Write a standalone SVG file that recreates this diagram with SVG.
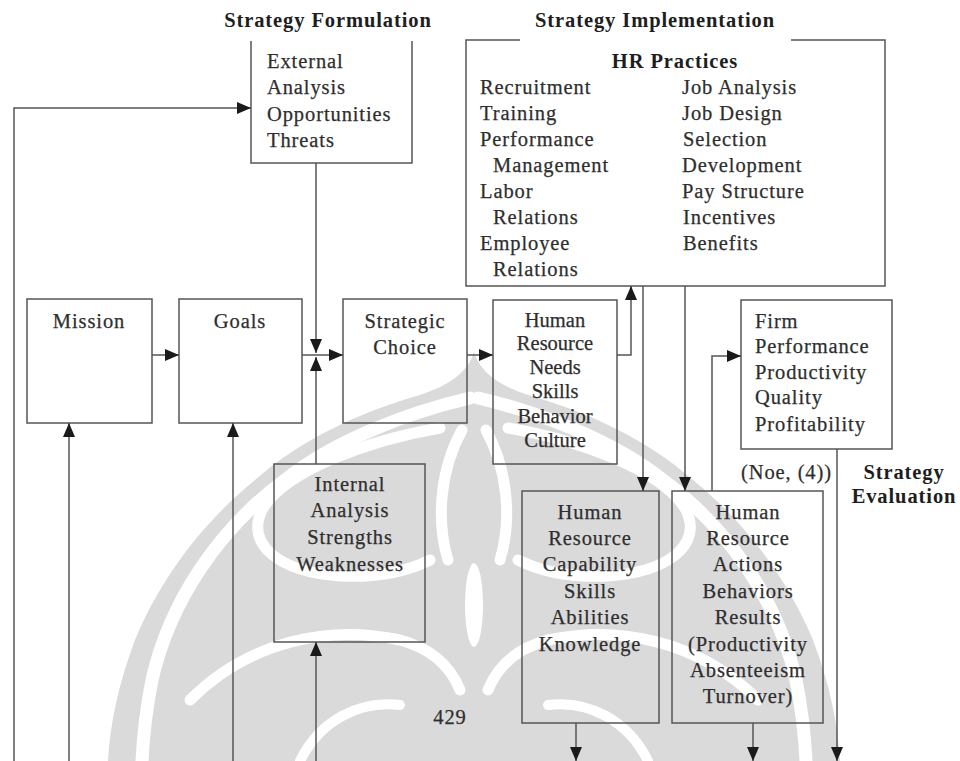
<svg xmlns="http://www.w3.org/2000/svg" width="960" height="761" viewBox="0 0 960 761">
<style>
.t{font-family:"Liberation Serif","Times New Roman",serif;font-size:20.5px;letter-spacing:0.9px;fill:#2e2e2e;stroke:#2e2e2e;stroke-width:0.25}
.c{text-anchor:middle}
.n{letter-spacing:0px}
.b{font-weight:bold;fill:#1e1e1e;stroke:none}
.box{fill:none;stroke:#555555;stroke-width:1.5}
.ln{fill:none;stroke:#555555;stroke-width:1.5}
.ar{marker-end:url(#ah)}
.wm{fill:#dadada}
.wb{fill:none;stroke:#ffffff;stroke-linecap:round}
</style>
<defs>
<marker id="ah" markerUnits="userSpaceOnUse" markerWidth="14" markerHeight="12" refX="14" refY="6" orient="auto">
<path d="M0,0 L14,6 L0,12 z" fill="#1a1a1a"/>
</marker>
</defs>
<rect x="0" y="0" width="960" height="761" fill="#ffffff"/>
<g id="watermark">
<path class="wm" d="M474,352 C468,372 450,385 420,395 C360,412 300,440 255,480 C200,525 160,580 135,640 C118,685 110,725 108,761 L840,761 C838,725 830,685 813,640 C788,580 748,525 693,480 C648,440 588,412 528,395 C498,385 480,372 474,352 Z"/>
<path class="wb" stroke-width="13" d="M470,398 C410,412 335,440 285,480 C220,528 170,600 152,680 C146,710 143,740 142,761"/>
<path class="wb" stroke-width="13" d="M478,398 C538,412 613,440 663,480 C728,528 778,600 796,680 C802,710 805,740 806,761"/>
<path class="wb" stroke-width="11" d="M440,428 C370,440 285,470 262,510 C245,545 280,572 340,576 C380,578 410,570 430,560"/>
<path class="wb" stroke-width="11" d="M508,428 C578,440 663,470 686,510 C703,545 668,572 608,576 C568,578 538,570 518,560"/>
<path class="wb" stroke-width="11" d="M462,430 C440,470 436,520 448,560"/>
<path class="wb" stroke-width="11" d="M486,430 C508,470 512,520 500,560"/>
<ellipse cx="474" cy="605" rx="9" ry="42" fill="#ffffff"/>
<path class="wb" stroke-width="11" d="M190,700 C250,640 330,625 400,640 C430,648 450,665 460,690"/>
<path class="wb" stroke-width="11" d="M758,700 C698,640 618,625 548,640 C518,648 498,665 488,690"/>
<path class="wb" stroke-width="10" d="M300,761 C320,720 360,700 400,705"/>
<path class="wb" stroke-width="10" d="M648,761 C628,720 588,700 548,705"/>
</g>
<g id="titles">
<text class="t b c" x="328" y="27">Strategy Formulation</text>
<text class="t b c" x="655" y="27">Strategy Implementation</text>
<text class="t b c" x="904" y="479">Strategy</text>
<text class="t b c" x="904" y="503">Evaluation</text>
<text class="t" x="741" y="479">(Noe, (4))</text>
<text class="t c" x="450" y="724">429</text>
</g>
<g id="external">
<path class="box" d="M251,41 V163 H412 V41"/>
<text class="t" x="267" y="68">External</text>
<text class="t" x="267" y="94">Analysis</text>
<text class="t" x="267" y="121">Opportunities</text>
<text class="t" x="267" y="147">Threats</text>
</g>
<g id="hr-practices">
<path class="box" d="M520,40 H466 V286 H885 V40 H791"/>
<text class="t b c" x="675" y="68">HR Practices</text>
<text class="t" x="480" y="94">Recruitment</text>
<text class="t" x="480" y="120">Training</text>
<text class="t" x="480" y="146">Performance</text>
<text class="t" x="493" y="172">Management</text>
<text class="t" x="480" y="198">Labor</text>
<text class="t" x="493" y="224">Relations</text>
<text class="t" x="480" y="250">Employee</text>
<text class="t" x="493" y="276">Relations</text>
<text class="t" x="682" y="94">Job Analysis</text>
<text class="t" x="682" y="120">Job Design</text>
<text class="t" x="683" y="146">Selection</text>
<text class="t" x="682" y="172">Development</text>
<text class="t" x="682" y="198">Pay Structure</text>
<text class="t" x="683" y="224">Incentives</text>
<text class="t" x="683" y="250">Benefits</text>
</g>
<g id="mission">
<rect class="box" x="27" y="299" width="125" height="124"/>
<text class="t c" x="89" y="328">Mission</text>
</g>
<g id="goals">
<rect class="box" x="179" y="299" width="123" height="124"/>
<text class="t c" x="240" y="328">Goals</text>
</g>
<g id="strategic-choice">
<rect class="box" x="343" y="299" width="124" height="124"/>
<text class="t c" x="405" y="328">Strategic</text>
<text class="t c" x="405" y="354">Choice</text>
</g>
<g id="hr-needs">
<rect class="box" x="493" y="300" width="124" height="164"/>
<text class="t c n" x="555" y="327">Human</text>
<text class="t c n" x="555" y="350">Resource</text>
<text class="t c n" x="555" y="374">Needs</text>
<text class="t c n" x="555" y="398">Skills</text>
<text class="t c n" x="555" y="423">Behavior</text>
<text class="t c n" x="555" y="447">Culture</text>
</g>
<g id="firm-performance">
<rect class="box" x="741" y="300" width="151" height="149"/>
<text class="t" x="755" y="328">Firm</text>
<text class="t" x="755" y="353">Performance</text>
<text class="t" x="755" y="379">Productivity</text>
<text class="t" x="755" y="404">Quality</text>
<text class="t" x="755" y="431">Profitability</text>
</g>
<g id="internal">
<rect class="box" x="274" y="464" width="151" height="178"/>
<text class="t c" x="350" y="491">Internal</text>
<text class="t c" x="350" y="517">Analysis</text>
<text class="t c" x="350" y="544">Strengths</text>
<text class="t c" x="350" y="571">Weaknesses</text>
</g>
<g id="hr-capability">
<rect class="box" x="522" y="491" width="137" height="232"/>
<text class="t c" x="590" y="519">Human</text>
<text class="t c" x="590" y="545">Resource</text>
<text class="t c" x="590" y="571">Capability</text>
<text class="t c" x="590" y="598">Skills</text>
<text class="t c" x="590" y="624">Abilities</text>
<text class="t c" x="590" y="651">Knowledge</text>
</g>
<g id="hr-actions">
<rect class="box" x="672" y="491" width="151" height="232"/>
<text class="t c" x="748" y="519">Human</text>
<text class="t c" x="748" y="545">Resource</text>
<text class="t c" x="748" y="571">Actions</text>
<text class="t c" x="748" y="598">Behaviors</text>
<text class="t c" x="748" y="624">Results</text>
<text class="t c" x="748" y="651">(Productivity</text>
<text class="t c" x="748" y="677">Absenteeism</text>
<text class="t c" x="748" y="703">Turnover)</text>
</g>
<g id="connectors">
<path class="ln ar" d="M14,761 V108 H251"/>
<path class="ln ar" d="M69,761 V423"/>
<path class="ln ar" d="M233,761 V423"/>
<path class="ln ar" d="M316,761 V642"/>
<path class="ln ar" d="M152,355 H179"/>
<path class="ln ar" d="M302,355 H343"/>
<path class="ln ar" d="M316,163 V353"/>
<path class="ln ar" d="M316,464 V357"/>
<path class="ln ar" d="M467,355 H493"/>
<path class="ln ar" d="M617,355 H631 V286"/>
<path class="ln ar" d="M643,286 V491"/>
<path class="ln ar" d="M685,286 V491"/>
<path class="ln ar" d="M712,491 V356 H741"/>
<path class="ln ar" d="M837,449 V761"/>
<path class="ln ar" d="M576,723 V761"/>
<path class="ln ar" d="M753,723 V761"/>
</g>
</svg>
